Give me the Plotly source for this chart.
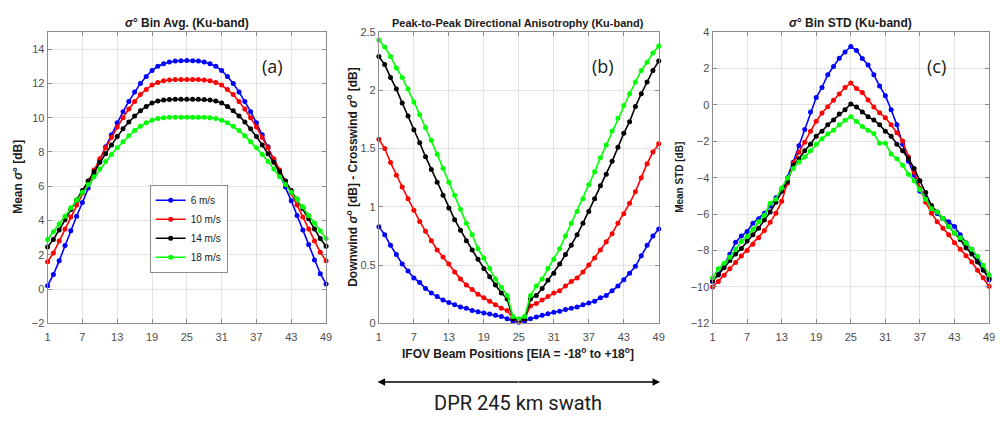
import plotly.graph_objects as go

# ---------------- data ----------------
beam = list(range(1, 50))
tick_vals = [1, 7, 13, 19, 25, 31, 37, 43, 49]
speeds = ["6 m/s", "10 m/s", "14 m/s", "18 m/s"]
colors = ["#0000ff", "#ff0000", "#000000", "#00ff00"]

# (a) sigma0 bin average [dB]
avg_6 = [0.2, 0.85, 1.65, 2.55, 3.4, 4.25, 5.05, 5.9, 6.7, 7.5, 8.3, 9.0, 9.7, 10.35, 10.95, 11.5, 12.0, 12.4, 12.75, 13.0, 13.15, 13.25, 13.3, 13.32, 13.33,
         13.32, 13.3, 13.25, 13.15, 13.0, 12.75, 12.4, 12.0, 11.5, 10.95, 10.35, 9.7, 9.0, 8.3, 7.5, 6.7, 5.95, 5.15, 4.3, 3.45, 2.6, 1.7, 0.9, 0.3]
avg_10 = [1.6, 2.1, 2.8, 3.5, 4.2, 4.9, 5.6, 6.3, 6.95, 7.6, 8.25, 8.85, 9.45, 10.0, 10.5, 10.95, 11.35, 11.65, 11.9, 12.05, 12.15, 12.2, 12.22, 12.22, 12.22,
          12.22, 12.22, 12.2, 12.15, 12.05, 11.9, 11.65, 11.35, 10.95, 10.5, 10.0, 9.45, 8.85, 8.25, 7.6, 6.95, 6.3, 5.6, 4.9, 4.2, 3.5, 2.8, 2.15, 1.65]
avg_14 = [2.45, 2.9, 3.45, 4.05, 4.65, 5.2, 5.75, 6.3, 6.85, 7.4, 7.9, 8.4, 8.9, 9.35, 9.75, 10.1, 10.4, 10.65, 10.85, 10.97, 11.03, 11.06, 11.07, 11.07, 11.07,
          11.07, 11.07, 11.06, 11.03, 10.97, 10.85, 10.65, 10.4, 10.1, 9.75, 9.35, 8.9, 8.4, 7.9, 7.4, 6.85, 6.3, 5.75, 5.25, 4.7, 4.1, 3.5, 2.95, 2.5]
avg_18 = [2.9, 3.35, 3.8, 4.25, 4.75, 5.2, 5.65, 6.1, 6.55, 7.0, 7.45, 7.85, 8.25, 8.6, 8.95, 9.25, 9.5, 9.7, 9.85, 9.95, 10.0, 10.02, 10.02, 10.02, 10.02,
          10.02, 10.02, 10.02, 10.0, 9.95, 9.85, 9.7, 9.5, 9.25, 8.95, 8.6, 8.25, 7.85, 7.45, 7.0, 6.55, 6.1, 5.65, 5.25, 4.8, 4.3, 3.85, 3.4, 2.95]

# (b) peak-to-peak directional anisotropy [dB]
ani_6 = [0.83, 0.76, 0.67, 0.59, 0.51, 0.45, 0.39, 0.35, 0.30, 0.26, 0.23, 0.20, 0.18, 0.16, 0.14, 0.13, 0.11, 0.10, 0.09, 0.08, 0.07, 0.06, 0.04, 0.02, 0.01,
         0.02, 0.04, 0.055, 0.07, 0.083, 0.095, 0.105, 0.12, 0.13, 0.14, 0.16, 0.175, 0.19, 0.22, 0.24, 0.28, 0.32, 0.375, 0.43, 0.49, 0.58, 0.67, 0.75, 0.81]
ani_10 = [1.58, 1.5, 1.38, 1.27, 1.17, 1.07, 0.97, 0.875, 0.79, 0.71, 0.63, 0.57, 0.51, 0.44, 0.38, 0.33, 0.29, 0.25, 0.22, 0.19, 0.16, 0.13, 0.11, 0.04, 0.02,
          0.04, 0.15, 0.17, 0.2, 0.23, 0.26, 0.28, 0.32, 0.36, 0.39, 0.44, 0.5, 0.56, 0.63, 0.70, 0.77, 0.86, 0.94, 1.03, 1.13, 1.25, 1.37, 1.47, 1.54]
ani_14 = [2.29, 2.22, 2.11, 2.01, 1.89, 1.78, 1.66, 1.55, 1.43, 1.32, 1.21, 1.10, 0.99, 0.89, 0.80, 0.71, 0.63, 0.55, 0.47, 0.40, 0.33, 0.26, 0.21, 0.04, 0.03,
          0.04, 0.21, 0.24, 0.30, 0.37, 0.43, 0.51, 0.59, 0.67, 0.76, 0.86, 0.96, 1.07, 1.18, 1.28, 1.39, 1.51, 1.63, 1.73, 1.86, 1.97, 2.07, 2.17, 2.25]
ani_18 = [2.43, 2.37, 2.29, 2.19, 2.11, 2.01, 1.9, 1.79, 1.68, 1.57, 1.45, 1.33, 1.21, 1.10, 0.98, 0.86, 0.76, 0.64, 0.56, 0.47, 0.38, 0.31, 0.24, 0.06, 0.04,
          0.06, 0.24, 0.32, 0.38, 0.47, 0.55, 0.64, 0.75, 0.86, 0.96, 1.07, 1.19, 1.3, 1.42, 1.53, 1.65, 1.76, 1.87, 1.97, 2.07, 2.17, 2.24, 2.32, 2.38]

# (c) sigma0 bin STD [dB]
std_6 = [-9.7, -9.3, -8.8, -8.2, -7.55, -7.2, -6.95, -6.5, -6.25, -5.95, -5.55, -5.1, -4.75, -4.0, -3.15, -2.25, -1.35, -0.4, 0.4, 0.95, 1.65, 2.1, 2.55, 2.9, 3.2,
         2.98, 2.54, 2.18, 1.65, 1.03, 0.5, -0.27, -1.1, -2.16, -3.1, -3.85, -4.75, -5.1, -5.7, -5.97, -6.24, -6.42, -6.68, -7.13, -7.57, -7.93, -8.42, -8.99, -9.61]
std_10 = [-10.0, -9.7, -9.35, -9.0, -8.65, -8.3, -8.0, -7.65, -7.3, -6.9, -6.45, -5.95, -5.3, -4.3, -3.2, -2.6, -2.05, -1.45, -0.9, -0.45, -0.1, 0.25, 0.6, 0.95, 1.2,
          0.9, 0.67, 0.27, -0.12, -0.44, -0.71, -1.1, -1.54, -1.99, -2.85, -3.7, -4.6, -5.35, -5.95, -6.42, -6.77, -7.13, -7.57, -7.93, -8.28, -8.63, -9.08, -9.49, -9.96]
std_14 = [-9.66, -9.34, -8.95, -8.55, -8.19, -7.89, -7.48, -7.13, -6.77, -6.33, -5.89, -5.35, -4.73, -4.2, -3.32, -2.96, -2.52, -2.16, -1.72, -1.45, -1.1, -0.83, -0.51, -0.27, 0.05,
          -0.12, -0.39, -0.66, -0.83, -1.1, -1.45, -1.72, -2.16, -2.52, -2.96, -3.49, -4.17, -4.82, -5.53, -5.89, -6.24, -6.68, -7.04, -7.39, -7.84, -8.19, -8.63, -9.08, -9.52]
std_18 = [-9.5, -9.0, -8.7, -8.37, -7.93, -7.5, -7.22, -6.83, -6.42, -6.06, -5.4, -5.18, -4.56, -4.02, -3.49, -3.14, -2.87, -2.52, -2.16, -1.86, -1.6, -1.4, -1.1, -0.85, -0.65,
          -0.92, -1.19, -1.4, -1.58, -2.11, -2.11, -2.7, -2.96, -3.32, -3.81, -4.17, -4.65, -5.18, -5.7, -5.89, -6.24, -6.68, -7.04, -7.3, -7.57, -7.93, -8.32, -8.81, -9.34]

avg_series = [avg_6, avg_10, avg_14, avg_18]
ani_series = [ani_6, ani_10, ani_14, ani_18]
std_series = [std_6, std_10, std_14, std_18]

# ---------------- figure ----------------
W, H = 1000, 422
fig = go.Figure()

panels = [("x", "y", avg_series, True), ("x2", "y2", ani_series, False), ("x3", "y3", std_series, False)]
for xr, yr, series, show in panels:
    for name, col, vals in zip(speeds, colors, series):
        fig.add_trace(go.Scatter(
            x=beam, y=vals, xaxis=xr, yaxis=yr, name=name, showlegend=show,
            mode="lines+markers", cliponaxis=False,
            line=dict(color=col, width=1.6),
            marker=dict(color=col, size=5, symbol="circle"),
        ))

def px_x(v):
    return v / W

def px_y(v):
    return 1 - v / H

ydom = [px_y(326.7), px_y(26.7)]
xdoms = [[px_x(45), px_x(326)], [px_x(379.3), px_x(661.7)], [px_x(716), px_x(995)]]
yranges = [[-2, 15], [0, 2.5], [-12, 4]]
ydticks = [2, 0.5, 2]

axis_common = dict(
    showline=True, mirror="ticks", linecolor="#8c8c8c", linewidth=1,
    showgrid=True, gridcolor="#e3e3e3", gridwidth=1,
    ticks="inside", ticklen=4, tickcolor="#8c8c8c",
    tickfont=dict(family="Liberation Sans, Arial, sans-serif", size=11, color="#4d4d4d"),
    zeroline=False,
)

layout_axes = {}
for i in range(3):
    sfx = "" if i == 0 else str(i + 1)
    layout_axes["xaxis" + sfx] = dict(axis_common, domain=xdoms[i], range=[1, 49],
                                     tickmode="array", tickvals=tick_vals,
                                     anchor="y" + sfx, ticklabelstandoff=3)
    layout_axes["yaxis" + sfx] = dict(axis_common, domain=ydom, range=yranges[i],
                                     dtick=ydticks[i], tick0=0, anchor="x" + sfx)
fig.update_layout(**layout_axes)

ann = []
bold = "Liberation Sans, Arial, sans-serif"
# titles
ann.append(dict(text="<b><i>σ</i>° Bin Avg. (Ku-band)</b>", x=px_x(186), y=px_y(17),
                font=dict(family=bold, size=12, color="#1a1a1a")))
ann.append(dict(text="<b>Peak-to-Peak Directional Anisotrophy (Ku-band)</b>", x=px_x(520), y=px_y(17),
                font=dict(family="Liberation Sans Narrow, Arial Narrow, Liberation Sans, sans-serif", size=11, color="#1a1a1a")))
ann.append(dict(text="<b><i>σ</i>° Bin STD (Ku-band)</b>", x=px_x(855), y=px_y(17),
                font=dict(family=bold, size=12, color="#1a1a1a")))
# panel letters
for txt, xx in [("(a)", 272), ("(b)", 605), ("(c)", 942)]:
    ann.append(dict(text=txt, x=px_x(xx), y=px_y(62),
                    font=dict(family="Open Sans, Liberation Sans, sans-serif", size=18, color="#1a1a1a")))
# y-axis titles
ann.append(dict(text="<b>Mean <i>σ</i>° [dB]</b>", x=px_x(15), y=px_y(176), textangle=-90,
                font=dict(family=bold, size=12, color="#1a1a1a")))
ann.append(dict(text="<b>Downwind <i>σ</i><sup>o</sup> [dB] - Crosswind <i>σ</i><sup>o</sup> [dB]</b>",
                x=px_x(352), y=px_y(176), textangle=-90,
                font=dict(family=bold, size=12, color="#1a1a1a")))
ann.append(dict(text="<b>Mean STD [dB]</b>", x=px_x(683), y=px_y(176), textangle=-90,
                font=dict(family=bold, size=10, color="#1a1a1a")))
# x-axis title
ann.append(dict(text="<b>IFOV Beam Positions [EIA = -18<sup>o</sup> to +18<sup>o</sup>]</b>",
                x=px_x(520), y=px_y(357),
                font=dict(family=bold, size=12, color="#1a1a1a")))
# swath text
ann.append(dict(text="DPR 245 km swath", x=px_x(520), y=px_y(409),
                font=dict(family="Roboto, Open Sans, sans-serif", size=20, color="#1a1a1a")))
for a in ann:
    a.update(xref="paper", yref="paper", showarrow=False, xanchor="center", yanchor="middle")

# double-headed arrow
for head in (663, 378):
    ann.append(dict(x=px_x(head), y=px_y(387), xref="paper", yref="paper",
                    ax=520.5 - head, ay=0, text="", showarrow=True,
                    arrowhead=2, arrowsize=1.0, arrowwidth=1.5, arrowcolor="#000000"))

fig.update_layout(
    width=W, height=H,
    margin=dict(l=0, r=0, t=0, b=0),
    paper_bgcolor="#ffffff", plot_bgcolor="#ffffff",
    annotations=ann,
    legend=dict(x=px_x(148), y=px_y(184), xanchor="left", yanchor="top",
                bgcolor="#ffffff", bordercolor="#8c8c8c", borderwidth=1,
                font=dict(family=bold, size=10, color="#1a1a1a"),
                tracegroupgap=0, itemwidth=30),
)

fig.write_html("out.html")
